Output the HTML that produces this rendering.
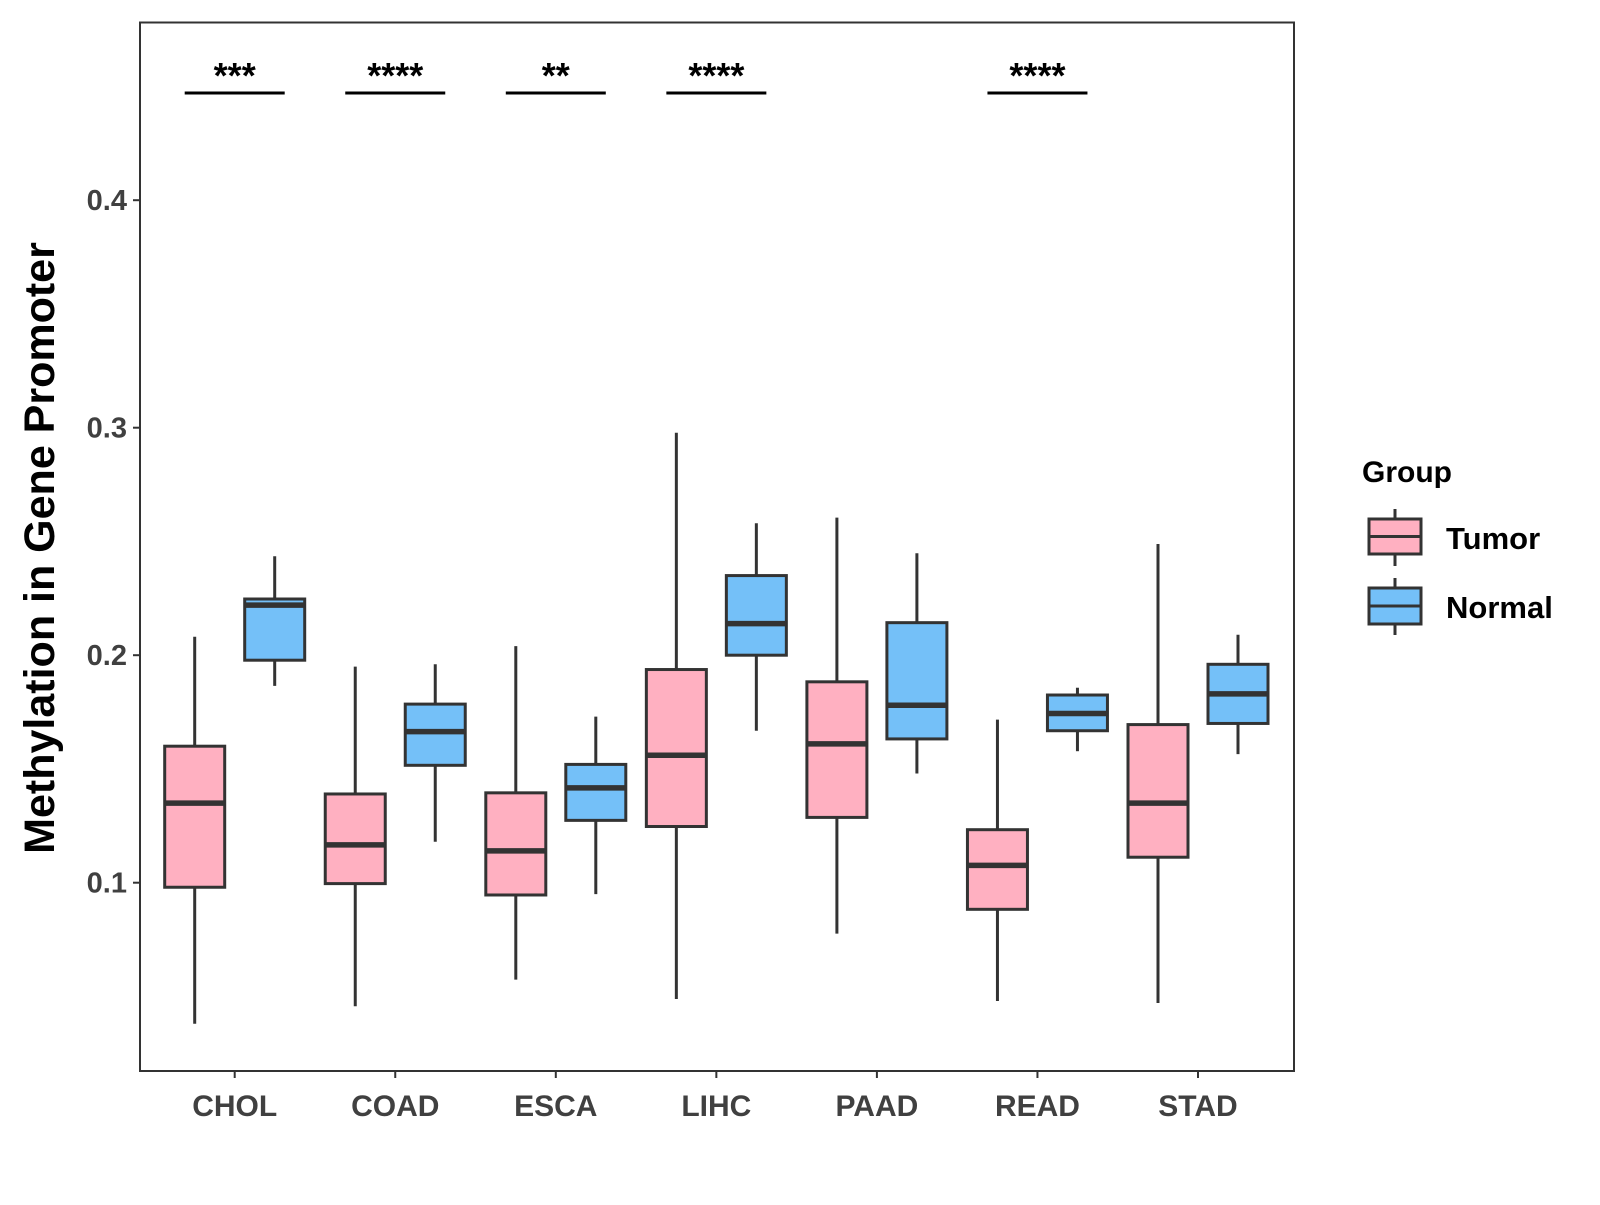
<!DOCTYPE html>
<html><head><meta charset="utf-8"><style>
html,body{margin:0;padding:0;background:#fff;}
svg text{font-family:"Liberation Sans",sans-serif;font-weight:bold;}
</style></head><body>
<svg id="chart" width="1600" height="1200" viewBox="0 0 1600 1200" xmlns="http://www.w3.org/2000/svg">
<rect x="0" y="0" width="1600" height="1200" fill="#fff"/>
<g id="plot"></g>
<rect x="140" y="22.5" width="1154" height="1048.5" fill="none" stroke="#333" stroke-width="2"/>
<text transform="translate(54,548) rotate(-90)" text-anchor="middle" font-size="43" fill="#000">Methylation in Gene Promoter</text>
<g>
<text x="1362" y="482" font-size="30" fill="#000">Group</text>
<g>
<line x1="1395" y1="509" x2="1395" y2="566" stroke="#333" stroke-width="3"/>
<rect x="1369" y="519" width="52" height="35" fill="#FFB0C1" stroke="#333" stroke-width="3"/>
<line x1="1369" y1="536.5" x2="1421" y2="536.5" stroke="#333" stroke-width="3"/>
<text x="1446" y="549" font-size="31" fill="#000">Tumor</text>
</g>
<g>
<line x1="1395" y1="578" x2="1395" y2="635" stroke="#333" stroke-width="3"/>
<rect x="1369" y="588" width="52" height="36" fill="#74C0F8" stroke="#333" stroke-width="3"/>
<line x1="1369" y1="606" x2="1421" y2="606" stroke="#333" stroke-width="3"/>
<text x="1446" y="618" font-size="31" fill="#000">Normal</text>
</g>
</g>
</svg>
<script>
const categories=["CHOL","COAD","ESCA","LIHC","PAAD","READ","STAD"];
const tumorLow=[0.038,0.0457,0.0574,0.0489,0.0776,0.048,0.0471];
const tumorQ1=[0.098,0.0996,0.0946,0.1247,0.1287,0.0883,0.1112];
const tumorMed=[0.135,0.1166,0.114,0.156,0.161,0.1076,0.135];
const tumorQ3=[0.160,0.139,0.1395,0.1937,0.1883,0.1233,0.1695];
const tumorHigh=[0.2081,0.195,0.204,0.2978,0.2605,0.1717,0.2489];
const normalLow=[0.1865,0.118,0.095,0.1668,0.148,0.1578,0.1565];
const normalQ1=[0.1978,0.1516,0.1274,0.2,0.1632,0.1668,0.17];
const normalMed=[0.222,0.1664,0.1417,0.2139,0.178,0.1744,0.183];
const normalQ3=[0.2247,0.1785,0.152,0.235,0.2143,0.1825,0.196];
const normalHigh=[0.2435,0.196,0.173,0.258,0.2448,0.1857,0.209];
const yTicks=[0.1,0.2,0.3,0.4];
const yTickLabels=["0.1","0.2","0.3","0.4"];
const sigLabels=["***","****","**","****","","****",""];

const NS="http://www.w3.org/2000/svg";
const g=document.getElementById('plot');
function y(v){return 882.7-(v-0.1)*2275;}
function x(i){return 234.7+i*160.55;}
function mk(tag,attrs,parent){const e=document.createElementNS(NS,tag);for(const k in attrs)e.setAttribute(k,attrs[k]);(parent||g).appendChild(e);return e;}

yTicks.forEach((t,i)=>{
  const tk=mk('line',{x1:133,x2:140,y1:y(t),y2:y(t),stroke:'#333','stroke-width':2});
  
  
  const lb=mk('text',{x:127,y:y(t)+10,'text-anchor':'end','font-size':29,fill:'#404040'});
  lb.textContent=yTickLabels[i];
  
  
});

function box(cx,lo,q1,md,q3,hi,fill,name){
  const gg=mk('g',{});
  
  
  mk('line',{x1:cx,x2:cx,y1:y(hi),y2:y(lo),stroke:'#333','stroke-width':3},gg);
  mk('rect',{x:cx-30,y:y(q3),width:60,height:y(q1)-y(q3),fill:fill,stroke:'#333','stroke-width':3},gg);
  mk('line',{x1:cx-30,x2:cx+30,y1:y(md),y2:y(md),stroke:'#333','stroke-width':5.5},gg);
}

categories.forEach((c,i)=>{
  const cx=x(i);
  box(cx-40,tumorLow[i],tumorQ1[i],tumorMed[i],tumorQ3[i],tumorHigh[i],'#FFB0C1','box-tumor-'+c.toLowerCase());
  box(cx+40,normalLow[i],normalQ1[i],normalMed[i],normalQ3[i],normalHigh[i],'#74C0F8','box-normal-'+c.toLowerCase());
  const tk=mk('line',{x1:cx,x2:cx,y1:1071,y2:1078,stroke:'#333','stroke-width':2});
  
  
  const lb=mk('text',{x:cx,y:1116,'text-anchor':'middle','font-size':30,fill:'#404040'});
  lb.textContent=c;
  
  
  if(sigLabels[i]){
    const bl=mk('line',{x1:cx-50,x2:cx+50,y1:93,y2:93,stroke:'#000','stroke-width':3});
    
    
    const st=mk('text',{x:cx,y:88,'text-anchor':'middle','font-size':36,fill:'#000'});
    st.textContent=sigLabels[i];
    
    
  }
});
</script>
</body></html>
